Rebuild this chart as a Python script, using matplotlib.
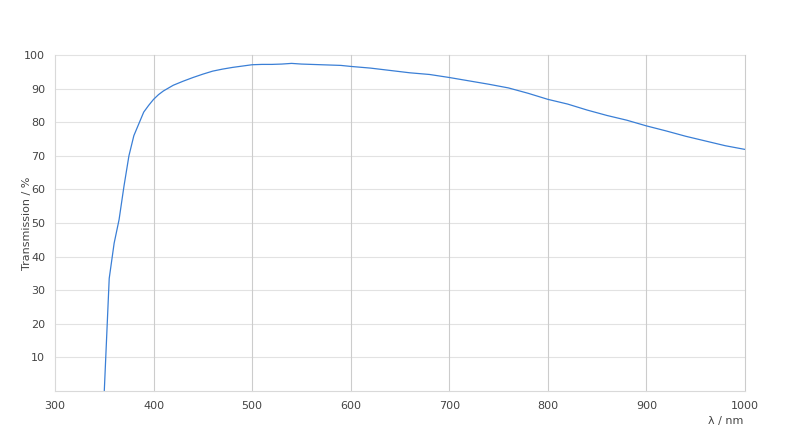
import matplotlib

matplotlib.use("Agg")
import matplotlib.pyplot as plt

# transmission curve
wavelength_nm = [
    350, 355, 360, 365, 370, 375, 380, 385, 390, 395, 400, 405, 410, 420,
    430, 440, 450, 460, 470, 480, 490, 500, 510, 520, 530, 540, 550, 560,
    570, 580, 590, 600, 620, 640, 660, 680, 700, 720, 740, 760, 780, 800,
    820, 840, 860, 880, 900, 920, 940, 960, 980, 1000,
]
transmission_pct = [
    0.0, 33.5, 44.0, 51.0, 61.0, 70.0, 76.0, 79.5, 83.0, 85.0, 86.8, 88.2,
    89.3, 91.0, 92.2, 93.3, 94.3, 95.2, 95.8, 96.3, 96.7, 97.1, 97.2, 97.2,
    97.3, 97.5, 97.3, 97.2, 97.1, 97.0, 96.9, 96.6, 96.1, 95.4, 94.7, 94.2,
    93.3, 92.3, 91.3, 90.2, 88.6, 86.8, 85.4, 83.6, 82.0, 80.6, 78.9, 77.4,
    75.8, 74.4, 73.0, 71.9,
]
x_ticks = [300, 400, 500, 600, 700, 800, 900, 1000]
y_ticks = [10, 20, 30, 40, 50, 60, 70, 80, 90, 100]

text_color = "#444444"

fig = plt.figure(figsize=(8.0, 4.46), dpi=100)
axis = fig.add_axes([0.06875, 0.1233, 0.8625, 0.7534])
fig.patch.set_facecolor("white")

axis.plot(wavelength_nm, transmission_pct, color="#3a7fd6", linewidth=0.9)

axis.set_xlim(300, 1000)
axis.set_ylim(0, 100)
axis.set_xticks(x_ticks)
axis.set_yticks(y_ticks)
axis.tick_params(axis="both", length=0, labelsize=8, colors=text_color, pad=7)

for value in y_ticks:
    axis.axhline(value, color="#e2e2e2", linewidth=0.8, zorder=0, clip_on=False)
for value in x_ticks[1:]:
    axis.axvline(value, color="#cccccc", linewidth=0.8, zorder=0, clip_on=False)

for name in ("top", "right"):
    axis.spines[name].set_visible(False)
for name in ("left", "bottom"):
    axis.spines[name].set_color("#d9d9d9")
    axis.spines[name].set_linewidth(0.8)

axis.set_ylabel("Transmission / %", fontsize=8, color=text_color)
axis.yaxis.set_label_coords(-0.034, 0.5)
axis.text(0.972, -0.09, "λ / nm", transform=axis.transAxes, ha="center",
          va="center", fontsize=8, color=text_color)

fig.savefig("out.png", dpi=100, facecolor="white")
plt.close(fig)
